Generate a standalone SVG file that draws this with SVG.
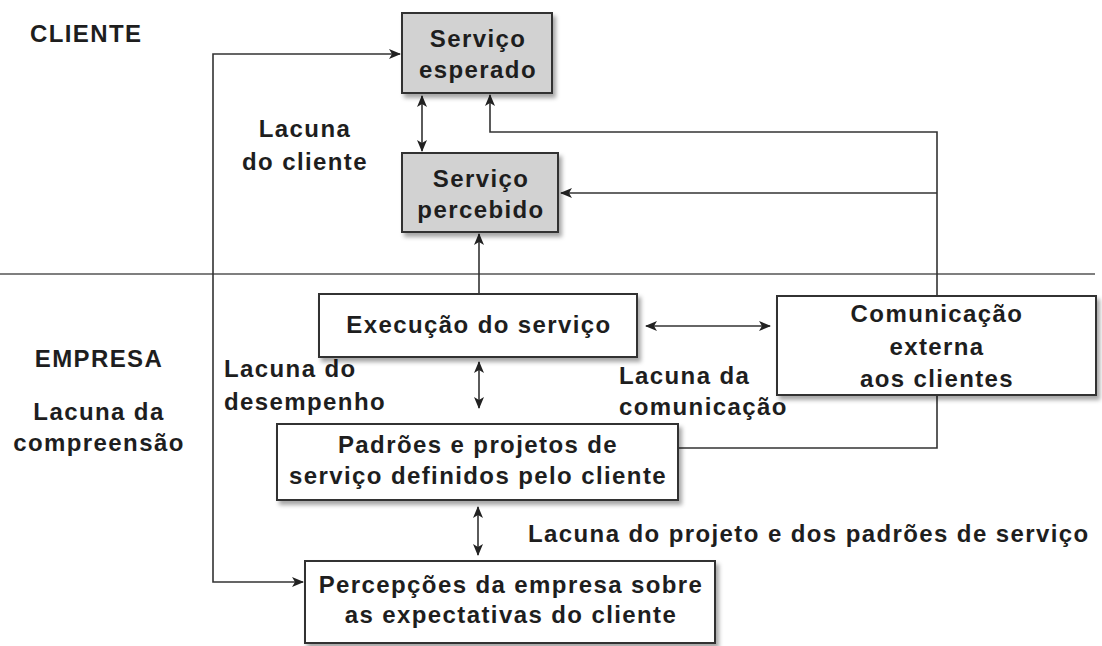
<svg xmlns="http://www.w3.org/2000/svg" width="1102" height="646" viewBox="0 0 1102 646">
<style>
text{font-family:"Liberation Sans",Arial,sans-serif;font-weight:bold;font-size:24px;letter-spacing:1.4px;fill:#1e1e1e}
.c{text-anchor:middle}
.box{fill:#fff;stroke:#333;stroke-width:2;filter:url(#sh)}
.gray{fill:#d2d2d2}
.ln{fill:none;stroke:#333;stroke-width:1.6}
.div{fill:none;stroke:#555;stroke-width:1.5}
</style>
<defs>
<filter id="sh" x="-10%" y="-10%" width="125%" height="135%">
<feDropShadow dx="3" dy="4" stdDeviation="2" flood-color="#000" flood-opacity="0.35"/>
</filter>
<marker id="ah" viewBox="0 0 12 10" refX="11" refY="5" markerWidth="12" markerHeight="10" markerUnits="userSpaceOnUse" orient="auto-start-reverse">
<path d="M0,0 L12,5 L0,10 L3,5 z" fill="#222"/>
</marker>
</defs>
<rect width="1102" height="646" fill="#fff"/>
<g id="labels">
<text x="30" y="42">CLIENTE</text>
<text class="c" x="99" y="367">EMPRESA</text>
<text class="c" x="99" y="420">Lacuna da</text>
<text class="c" x="99" y="451">compreensão</text>
<text class="c" x="305" y="137">Lacuna</text>
<text class="c" x="305" y="170">do cliente</text>
<text x="224" y="377">Lacuna do</text>
<text x="224" y="410">desempenho</text>
<text x="619" y="384">Lacuna da</text>
<text x="619" y="415">comunicação</text>
<text x="528" y="542">Lacuna do projeto e dos padrões de serviço</text>
</g>
<g id="divider">
<line class="div" x1="0" y1="274" x2="1095" y2="274"/>
</g>
<g id="connectors">
<path class="ln" d="M400,54 H213 V582 H303" marker-start="url(#ah)" marker-end="url(#ah)"/>
<path class="ln" d="M422,96 V151" marker-start="url(#ah)" marker-end="url(#ah)"/>
<path class="ln" d="M937,296 V132 H490 V95" marker-end="url(#ah)"/>
<path class="ln" d="M937,193 H561" marker-end="url(#ah)"/>
<path class="ln" d="M479,294 V234" marker-end="url(#ah)"/>
<path class="ln" d="M646,326 H770" marker-start="url(#ah)" marker-end="url(#ah)"/>
<path class="ln" d="M479,362 V408" marker-start="url(#ah)" marker-end="url(#ah)"/>
<path class="ln" d="M478,507 V555" marker-start="url(#ah)" marker-end="url(#ah)"/>
<path class="ln" d="M937,395 V448 H679"/>
</g>
<g id="esperado">
<rect class="box gray" x="402" y="13" width="150" height="80"/>
<text class="c" x="478" y="47">Serviço</text>
<text class="c" x="478" y="78">esperado</text>
</g>
<g id="percebido">
<rect class="box gray" x="402" y="153" width="156" height="79"/>
<text class="c" x="481" y="187">Serviço</text>
<text class="c" x="481" y="218">percebido</text>
</g>
<g id="execucao">
<rect class="box" x="319" y="294" width="318" height="63"/>
<text class="c" x="479" y="333">Execução do serviço</text>
</g>
<g id="comunicacao">
<rect class="box" x="777" y="296" width="319" height="99"/>
<text class="c" x="937" y="322">Comunicação</text>
<text class="c" x="937" y="355">externa</text>
<text class="c" x="937" y="387">aos clientes</text>
</g>
<g id="padroes">
<rect class="box" x="277" y="424" width="401" height="76"/>
<text class="c" x="478" y="453">Padrões e projetos de</text>
<text class="c" x="478" y="484">serviço definidos pelo cliente</text>
</g>
<g id="percepcoes">
<rect class="box" x="305" y="561" width="410" height="82"/>
<text class="c" x="511" y="593">Percepções da empresa sobre</text>
<text class="c" x="511" y="623">as expectativas do cliente</text>
</g>
</svg>
